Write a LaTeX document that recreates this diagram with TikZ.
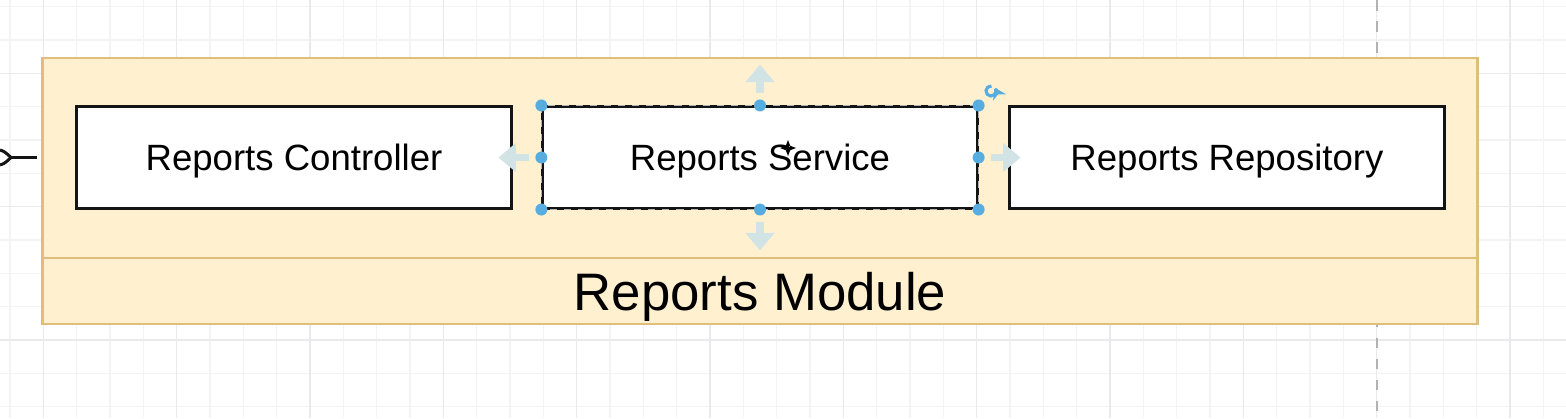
\documentclass[tikz,border=0pt]{standalone}
\usepackage{fontspec}
\setmainfont{Liberation Sans}
\usepackage{tikz}
\usetikzlibrary{arrows.meta,positioning,calc}
\definecolor{modfill}{RGB}{255,241,208}
\definecolor{modedge}{RGB}{222,190,122}
\definecolor{handleblue}{RGB}{88,173,224}
\definecolor{hintblue}{RGB}{210,227,229}
\definecolor{gridgray}{RGB}{243,243,245}
\definecolor{gridmajor}{RGB}{234,234,237}
\colorlet{boxink}{black!92}

\begin{document}
\begin{tikzpicture}[
  x=0.01cm, y=-0.01cm,
  gridline/.style={gridgray, line width=0.3pt},
  modbox/.style={draw=modedge, fill=modfill, line width=0.75pt,
    minimum width=14.34cm, inner sep=0pt, outer sep=0pt},
  classbox/.style={draw=boxink, fill=white, line width=0.85pt,
    minimum width=4.34cm, minimum height=1.01cm, inner sep=0pt,
    text depth=0pt, font=\fontsize{10.4pt}{12pt}\selectfont},
  handle/.style={fill=handleblue},
  hint/.style={hintblue, line width=2pt, -{Triangle[length=5pt,width=8pt]}},
]
  \fill[white] (0,0) rectangle (1566,418);
  \useasboundingbox (0,0) rectangle (1566,418);

  % grid
  \foreach \gx in {0,...,46}
    \draw[gridline] ({10+33.333*\gx},0) -- ++(0,418);
  \foreach \gy in {0,...,12}
    \draw[gridline] (0,{6.667+33.333*\gy}) -- ++(1566,0);
  \foreach \gx in {1,5,...,45}
    \draw[gridmajor, line width=0.3pt] ({10+33.333*\gx},0) -- ++(0,418);
  \foreach \gy in {2,6,10}
    \draw[gridmajor, line width=0.3pt] (0,{6.667+33.333*\gy}) -- ++(1566,0);
  \draw[black!30, line width=0.4pt, dash pattern=on 3pt off 3pt] (1377,0) -- (1377,418);

  % module
  \node[modbox, minimum height=2.00cm] (module) at (760,158) {};
  \node[modbox, minimum height=0.66cm, text depth=0pt, font=\fontsize{15pt}{18pt}\selectfont]
    (modlabel) at (760,291) {Reports Module};

  \node[classbox] (controller) at (294,157.5) {Reports Controller};
  \node[classbox] (service) at (760,157.5) {Reports Service};
  \node[classbox] (repository) at (1227,157.5) {Reports Repository};

  % incoming end on the left
  \coordinate (forkjoin) at (11,157.5);
  \coordinate (forkend) at (37,157.5);
  \draw[boxink, line width=0.85pt] (forkjoin) -- (forkend);
  \draw[boxink, line width=0.85pt] (0,150) .. controls (5,151) and (8,155) .. (forkjoin);
  \draw[boxink, line width=0.85pt] (0,165) .. controls (5,164) and (8,160) .. (forkjoin);

  % selection of the service box
  \draw[black!30, line width=0.4pt, dash pattern=on 2pt off 2pt]
    (service.north west) rectangle (service.south east);
  \draw[hint] ($(service.north)+(0,-12)$) -- ($(service.north)+(0,-41)$);
  \draw[hint] ($(service.south)+(0,12)$) -- ($(service.south)+(0,41)$);
  \draw[hint] ($(service.west)+(-12,0)$) -- ($(service.west)+(-43,0)$);
  \draw[hint] ($(service.east)+(12,0)$) -- ($(service.east)+(42,0)$);
  \foreach \a in {north west,north,north east,west,east,south west,south,south east}
    \fill[handle] (service.\a) circle (0.06cm);

  \coordinate (rotate) at (991,91);
  \draw[handleblue, line width=0.9pt]
    ($(rotate)+(85:0.05cm)$) arc[start angle=85, end angle=385, radius=0.05cm];
  \draw[handleblue, line width=0.9pt, -{Stealth[length=3pt,width=4.2pt]}]
    ($(rotate)+(25:0.05cm)$) -- ++(115:0.01cm);

  \coordinate (cursor) at (788,148);
  \draw[black, line width=0.6pt, {Stealth[length=2pt]}-{Stealth[length=2pt]}]
    ($(cursor)+(-8,0)$) -- ($(cursor)+(8,0)$);
  \draw[black, line width=0.6pt, {Stealth[length=2pt]}-{Stealth[length=2pt]}]
    ($(cursor)+(0,-8)$) -- ($(cursor)+(0,8)$);
\end{tikzpicture}
\end{document}
